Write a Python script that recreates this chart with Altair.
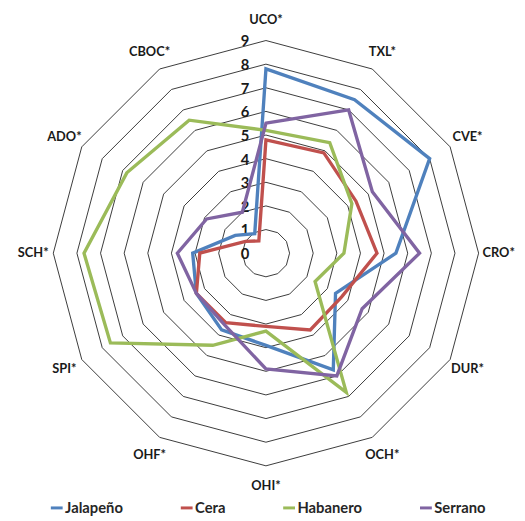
import altair as alt
import pandas as pd

categories = ["UCO*", "TXL*", "CVE*", "CRO*", "DUR*", "OCH*",
              "OHI*", "OHF*", "SPI*", "SCH*", "ADO*", "CBOC*"]
series_names = ["Jalapeño", "Cera", "Habanero", "Serrano"]
jalapeno = [7.8, 7.5, 8.0, 5.5, 3.4, 5.7, 3.9, 3.75, 3.4, 3.1, 1.5, 0.95]
cera = [4.8, 4.9, 4.4, 4.7, 3.7, 3.75, 3.1, 3.4, 3.4, 2.8, 1.0, 0.6]
habanero = [5.2, 5.4, 4.2, 3.3, 2.4, 6.8, 3.3, 4.5, 7.6, 7.7, 6.8, 6.5]
serrano = [5.5, 7.0, 5.2, 6.5, 4.7, 6.0, 4.9, 3.5, 3.4, 3.75, 2.9, 2.0]
colors = ["#4F81BD", "#C0504D", "#9BBB59", "#8064A2"]
ring_levels = [1, 2, 3, 4, 5, 6, 7, 8, 9]
tick_labels = [0, 1, 2, 3, 4, 5, 6, 7, 8, 9]
label_radius = 9.85

all_series = [jalapeno, cera, habanero, serrano]
series_df = pd.DataFrame([
    {"series": name, "idx": i, "value": vals[i]}
    for name, vals in zip(series_names, all_series)
    for i in range(len(categories))
])
grid_df = pd.DataFrame([
    {"ring": r, "idx": i, "value": r}
    for r in ring_levels for i in range(len(categories))
])
cat_df = pd.DataFrame({"idx": list(range(len(categories))),
                       "label": categories,
                       "value": [label_radius] * len(categories)})
tick_df = pd.DataFrame({"idx": [0] * len(tick_labels), "value": tick_labels})

W, H = 517, 513
unit = 24.0
cx, cy = 262.0, 245.0
xdom = [-cx / unit, (W - cx) / unit]
ydom = [-(H - cy) / unit, cy / unit]

X = alt.X("x:Q", scale=alt.Scale(domain=xdom, nice=False, zero=False), axis=None)
Y = alt.Y("y:Q", scale=alt.Scale(domain=ydom, nice=False, zero=False), axis=None)


def polar(ch):
    return ch.transform_calculate(
        theta="datum.idx * PI / 6"
    ).transform_calculate(
        x="datum.value * sin(datum.theta)",
        y="datum.value * cos(datum.theta)",
    )


grid = polar(alt.Chart(grid_df).mark_line(
    interpolate="linear-closed", stroke="#3a3a3a", strokeWidth=1
)).encode(x=X, y=Y, detail="ring:N", order="idx:Q")

ticks = polar(alt.Chart(tick_df).mark_text(
    align="right", baseline="middle", dx=-17, dy=1, font="Lato", fontSize=15,
    fontWeight="bold", color="#1a1a1a"
)).encode(x=X, y=Y, text="value:Q")

lines = polar(alt.Chart(series_df).mark_line(
    interpolate="linear-closed", strokeWidth=3.4
)).encode(
    x=X, y=Y, order="idx:Q",
    color=alt.Color(
        "series:N", sort=series_names,
        scale=alt.Scale(domain=series_names, range=colors),
        legend=alt.Legend(
            title=None, orient="none", legendX=42, legendY=496,
            direction="horizontal", columns=4, columnPadding=52,
            symbolType="stroke", symbolStrokeWidth=3, symbolSize=144,
            labelFont="Lato", labelFontSize=15, labelFontWeight="bold",
            labelColor="#262626", labelOffset=1, padding=0,
        ),
    ),
)

labels = polar(alt.Chart(cat_df).mark_text(
    align="center", baseline="middle", font="Lato", fontSize=13,
    fontWeight="bold", color="#1a1a1a"
)).encode(x=X, y=Y, text="label:N")

chart = alt.layer(grid, ticks, lines, labels).properties(
    width=W, height=H, autosize=alt.AutoSizeParams(type="none"), padding=0
).configure_view(stroke=None)

chart.save("out.html", embed_options={"renderer": "svg", "actions": False})
